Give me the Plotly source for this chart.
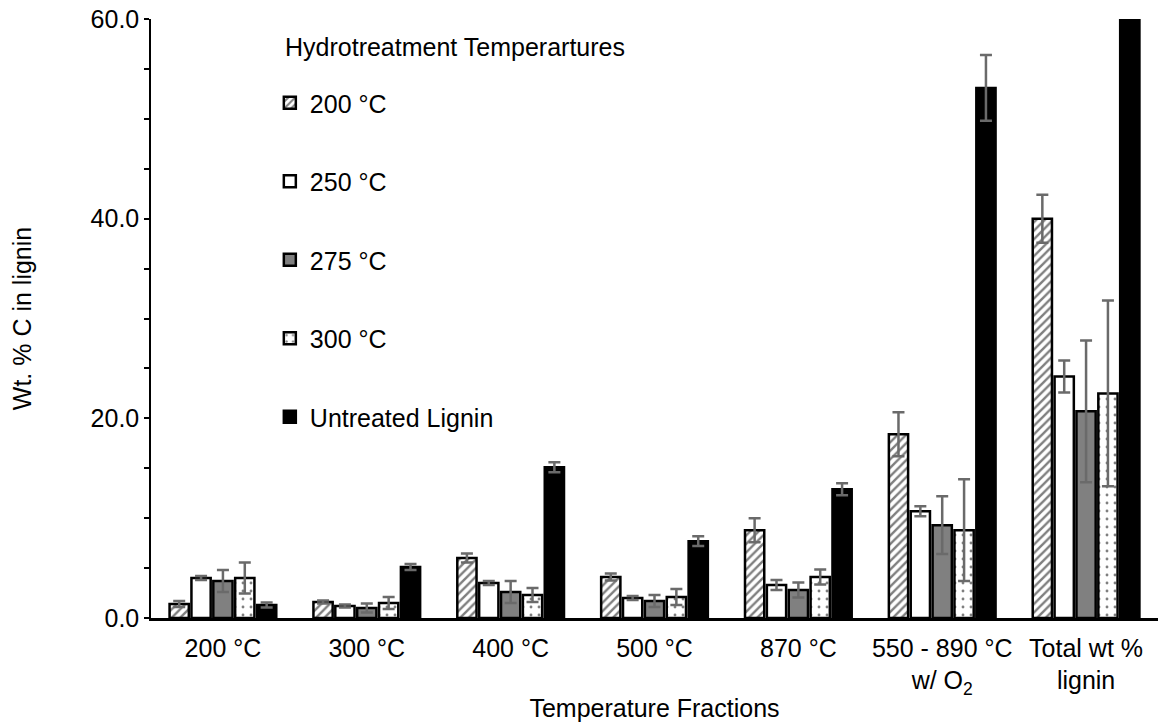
import plotly.graph_objects as go

# Temperature fractions on the x axis
categories = [
    "200 °C",
    "300 °C",
    "400 °C",
    "500 °C",
    "870 °C",
    "550 - 890 °C<br>w/ O<sub>2</sub>",
    "Total wt %<br>lignin",
]

# Wt. % C in lignin per hydrotreatment temperature, with error bars
c200 = [1.4, 1.6, 6.0, 4.1, 8.8, 18.4, 40.0]
c200_err = [0.3, 0.15, 0.45, 0.35, 1.2, 2.2, 2.4]
c250 = [4.0, 1.2, 3.5, 2.0, 3.3, 10.7, 24.2]
c250_err = [0.2, 0.15, 0.2, 0.2, 0.5, 0.5, 1.6]
c275 = [3.7, 1.0, 2.6, 1.7, 2.8, 9.3, 20.7]
c275_err = [1.1, 0.45, 1.1, 0.6, 0.75, 2.9, 7.1]
c300 = [4.0, 1.5, 2.3, 2.1, 4.1, 8.8, 22.5]
c300_err = [1.55, 0.6, 0.7, 0.8, 0.75, 5.1, 9.3]
untreated = [1.3, 5.1, 15.1, 7.7, 12.9, 53.1, 95.2]
untreated_err = [0.25, 0.3, 0.5, 0.5, 0.6, 3.3, 4.0]

y_ticks = [0, 20, 40, 60]

FONT = "Liberation Sans, Arial, sans-serif"
FS = 25
ERR_COLOR = "#6a6a6a"

series = [
    ("200 °C", c200, c200_err, dict(color="white", pattern=dict(shape="/", fgcolor="black", bgcolor="white", size=6, solidity=0.4))),
    ("250 °C", c250, c250_err, dict(color="white")),
    ("275 °C", c275, c275_err, dict(color="#808080")),
    ("300 °C", c300, c300_err, dict(color="white", pattern=dict(shape=".", fgcolor="black", bgcolor="white", size=8, solidity=0.1))),
    ("Untreated Lignin", untreated, untreated_err, dict(color="black")),
]

fig = go.Figure()
for i, (name, vals, errs, marker) in enumerate(series):
    marker = dict(marker)
    marker["line"] = dict(color="black", width=2.5)
    fig.add_trace(go.Bar(
        name=name,
        x=categories,
        y=vals,
        marker=marker,
        legendgroup=f"g{i}",
        error_y=dict(type="data", array=errs, visible=True,
                     color=ERR_COLOR, thickness=2.5, width=6),
    ))

# Legend heading
fig.add_annotation(
    text="Hydrotreatment Temperartures",
    xref="paper", yref="paper", x=0.131, y=0.953,
    xanchor="left", yanchor="middle", showarrow=False,
    font=dict(size=FS),
)

fig.update_layout(
    width=1161,
    height=725,
    margin=dict(l=151, r=3, t=19, b=107),
    paper_bgcolor="white",
    plot_bgcolor="white",
    font=dict(family=FONT, size=FS, color="black"),
    barmode="group",
    bargap=0.24,
    bargroupgap=0.12,
    legend=dict(
        x=0.118, xanchor="left",
        y=0.898, yanchor="top",
        bgcolor="rgba(0,0,0,0)",
        font=dict(size=FS),
        traceorder="grouped",
        tracegroupgap=43,
        itemwidth=30,
    ),
    xaxis=dict(
        title=dict(text="Temperature Fractions", standoff=2, font=dict(size=FS)),
        showline=True, linecolor="black", linewidth=2.5,
        ticks="", showgrid=False,
        ticklabelstandoff=6,
        tickfont=dict(size=FS),
    ),
    yaxis=dict(
        title=dict(text="Wt. % C in lignin", standoff=52, font=dict(size=FS)),
        range=[0, 60],
        tickvals=y_ticks,
        tickformat=".1f",
        showline=True, linecolor="black", linewidth=1.5,
        ticks="outside", ticklen=5, tickwidth=1.5, tickcolor="black",
        minor=dict(dtick=5, ticks="outside", ticklen=5, tickwidth=1.5, tickcolor="black"),
        showgrid=False, zeroline=False,
        tickfont=dict(size=FS),
    ),
)

fig.write_html("out.html")
